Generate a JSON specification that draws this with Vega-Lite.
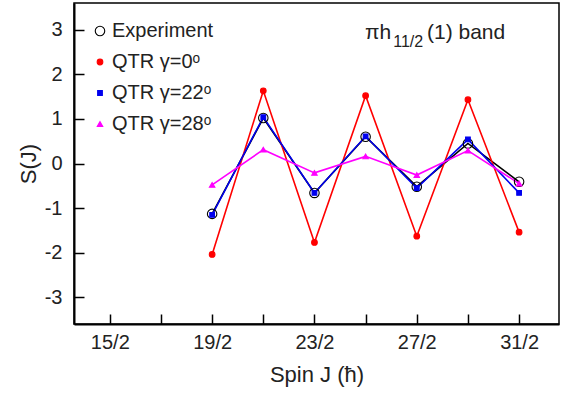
{
  "$schema": "https://vega.github.io/schema/vega-lite/v6.json",
  "width": 485,
  "height": 321,
  "autosize": "none",
  "padding": {"left": 74, "top": 3, "right": 8, "bottom": 70},
  "background": "white",
  "config": {
    "font": "Liberation Sans",
    "view": {"stroke": "black", "strokeWidth": 1.5},
    "axis": {"grid": false, "domainColor": "black", "domainWidth": 2, "tickColor": "black", "tickWidth": 1.5, "labelColor": "#222", "titleColor": "#222", "labelFont": "Liberation Sans", "titleFont": "Liberation Sans", "labelFontSize": 20, "titleFontSize": 22, "titleFontWeight": "normal"},
    "legend": {"orient": "none", "legendX": 16, "legendY": 18, "padding": 0, "labelFontSize": 20, "labelColor": "#222", "labelFont": "Liberation Sans", "rowPadding": 11, "labelOffset": 2, "symbolStrokeWidth": 1.1}
  },
  "data": {
    "values": [
      {"J": 9.5, "S": -1.13, "series": "Experiment"},
      {"J": 10.5, "S": 1.02, "series": "Experiment"},
      {"J": 11.5, "S": -0.66, "series": "Experiment"},
      {"J": 12.5, "S": 0.60, "series": "Experiment"},
      {"J": 13.5, "S": -0.52, "series": "Experiment"},
      {"J": 14.5, "S": 0.45, "series": "Experiment"},
      {"J": 15.5, "S": -0.41, "series": "Experiment"},
      {"J": 9.5, "S": -2.04, "series": "QTR γ=0ᵒ"},
      {"J": 10.5, "S": 1.63, "series": "QTR γ=0ᵒ"},
      {"J": 11.5, "S": -1.77, "series": "QTR γ=0ᵒ"},
      {"J": 12.5, "S": 1.52, "series": "QTR γ=0ᵒ"},
      {"J": 13.5, "S": -1.63, "series": "QTR γ=0ᵒ"},
      {"J": 14.5, "S": 1.43, "series": "QTR γ=0ᵒ"},
      {"J": 15.5, "S": -1.54, "series": "QTR γ=0ᵒ"},
      {"J": 9.5, "S": -1.15, "series": "QTR γ=22ᵒ"},
      {"J": 10.5, "S": 1.04, "series": "QTR γ=22ᵒ"},
      {"J": 11.5, "S": -0.66, "series": "QTR γ=22ᵒ"},
      {"J": 12.5, "S": 0.61, "series": "QTR γ=22ᵒ"},
      {"J": 13.5, "S": -0.55, "series": "QTR γ=22ᵒ"},
      {"J": 14.5, "S": 0.54, "series": "QTR γ=22ᵒ"},
      {"J": 15.5, "S": -0.66, "series": "QTR γ=22ᵒ"},
      {"J": 9.5, "S": -0.48, "series": "QTR γ=28ᵒ"},
      {"J": 10.5, "S": 0.31, "series": "QTR γ=28ᵒ"},
      {"J": 11.5, "S": -0.21, "series": "QTR γ=28ᵒ"},
      {"J": 12.5, "S": 0.16, "series": "QTR γ=28ᵒ"},
      {"J": 13.5, "S": -0.26, "series": "QTR γ=28ᵒ"},
      {"J": 14.5, "S": 0.29, "series": "QTR γ=28ᵒ"},
      {"J": 15.5, "S": -0.45, "series": "QTR γ=28ᵒ"}
    ]
  },
  "layer": [
    {
      "mark": {"type": "line", "strokeWidth": 1.6},
      "encoding": {
        "x": {"field": "J", "type": "quantitative", "scale": {"domain": [6.8, 16.28], "nice": false, "zero": false},
          "axis": {"values": [7.5, 8.5, 9.5, 10.5, 11.5, 12.5, 13.5, 14.5, 15.5], "tickSize": -10, "labelPadding": 18, "title": "Spin J (ħ)", "titlePadding": 12,
            "labelExpr": "((datum.value * 2 - 15) % 4 == 0) ? (datum.value * 2) + '/2' : ''"}},
        "y": {"field": "S", "type": "quantitative", "scale": {"domain": [-3.6, 3.6], "nice": false, "zero": false},
          "axis": {"values": [-3, -2, -1, 0, 1, 2, 3], "tickSize": -10, "labelPadding": 22, "title": "S(J)", "titlePadding": 4, "labelExpr": "'' + datum.value"}},
        "color": {"field": "series", "type": "nominal", "legend": null,
          "scale": {"domain": ["QTR γ=0ᵒ", "QTR γ=22ᵒ", "QTR γ=28ᵒ", "Experiment"], "range": ["#ff0000", "#0000ee", "#ff00ff", "black"]}},
        "strokeWidth": {"field": "series", "type": "nominal", "legend": null,
          "scale": {"type": "ordinal", "domain": ["QTR γ=22ᵒ", "QTR γ=0ᵒ", "QTR γ=28ᵒ", "Experiment"], "range": [2.2, 1.5, 1.5, 1.6]}},
        "order": {"field": "J"}
      }
    },
    {
      "mark": {"type": "point", "opacity": 1, "strokeWidth": 1.1},
      "encoding": {
        "x": {"field": "J", "type": "quantitative"},
        "y": {"field": "S", "type": "quantitative"},
        "stroke": {"field": "series", "type": "nominal", "title": null,
          "scale": {"domain": ["Experiment", "QTR γ=0ᵒ", "QTR γ=22ᵒ", "QTR γ=28ᵒ"], "range": ["black", "#ff0000", "#0000ee", "#ff00ff"]}},
        "fill": {"field": "series", "type": "nominal", "title": null,
          "scale": {"domain": ["Experiment", "QTR γ=0ᵒ", "QTR γ=22ᵒ", "QTR γ=28ᵒ"], "range": ["rgba(255,255,255,0)", "#ff0000", "#0000ee", "#ff00ff"]}},
        "shape": {"field": "series", "type": "nominal", "title": null,
          "scale": {"domain": ["Experiment", "QTR γ=0ᵒ", "QTR γ=22ᵒ", "QTR γ=28ᵒ"], "range": ["circle", "circle", "square", "triangle-up"]}},
        "size": {"field": "series", "type": "nominal", "title": null,
          "scale": {"type": "ordinal", "domain": ["Experiment", "QTR γ=0ᵒ", "QTR γ=22ᵒ", "QTR γ=28ᵒ"], "range": [90, 32, 22, 30]}}
      }
    },
    {
      "data": {"values": [{}]},
      "mark": {"type": "text", "align": "left", "baseline": "alphabetic", "fontSize": 21, "fontWeight": "normal", "fill": "#222"},
      "encoding": {"x": {"datum": 12.49}, "y": {"datum": 2.79}, "text": {"value": "πh"}}
    },
    {
      "data": {"values": [{}]},
      "mark": {"type": "text", "align": "left", "baseline": "alphabetic", "fontSize": 16, "fontWeight": "normal", "fill": "#222"},
      "encoding": {"x": {"datum": 13.04}, "y": {"datum": 2.62}, "text": {"value": "11/2"}}
    },
    {
      "data": {"values": [{}]},
      "mark": {"type": "text", "align": "left", "baseline": "alphabetic", "fontSize": 21, "fontWeight": "normal", "fill": "#222"},
      "encoding": {"x": {"datum": 13.7}, "y": {"datum": 2.79}, "text": {"value": "(1) band"}}
    }
  ]
}
